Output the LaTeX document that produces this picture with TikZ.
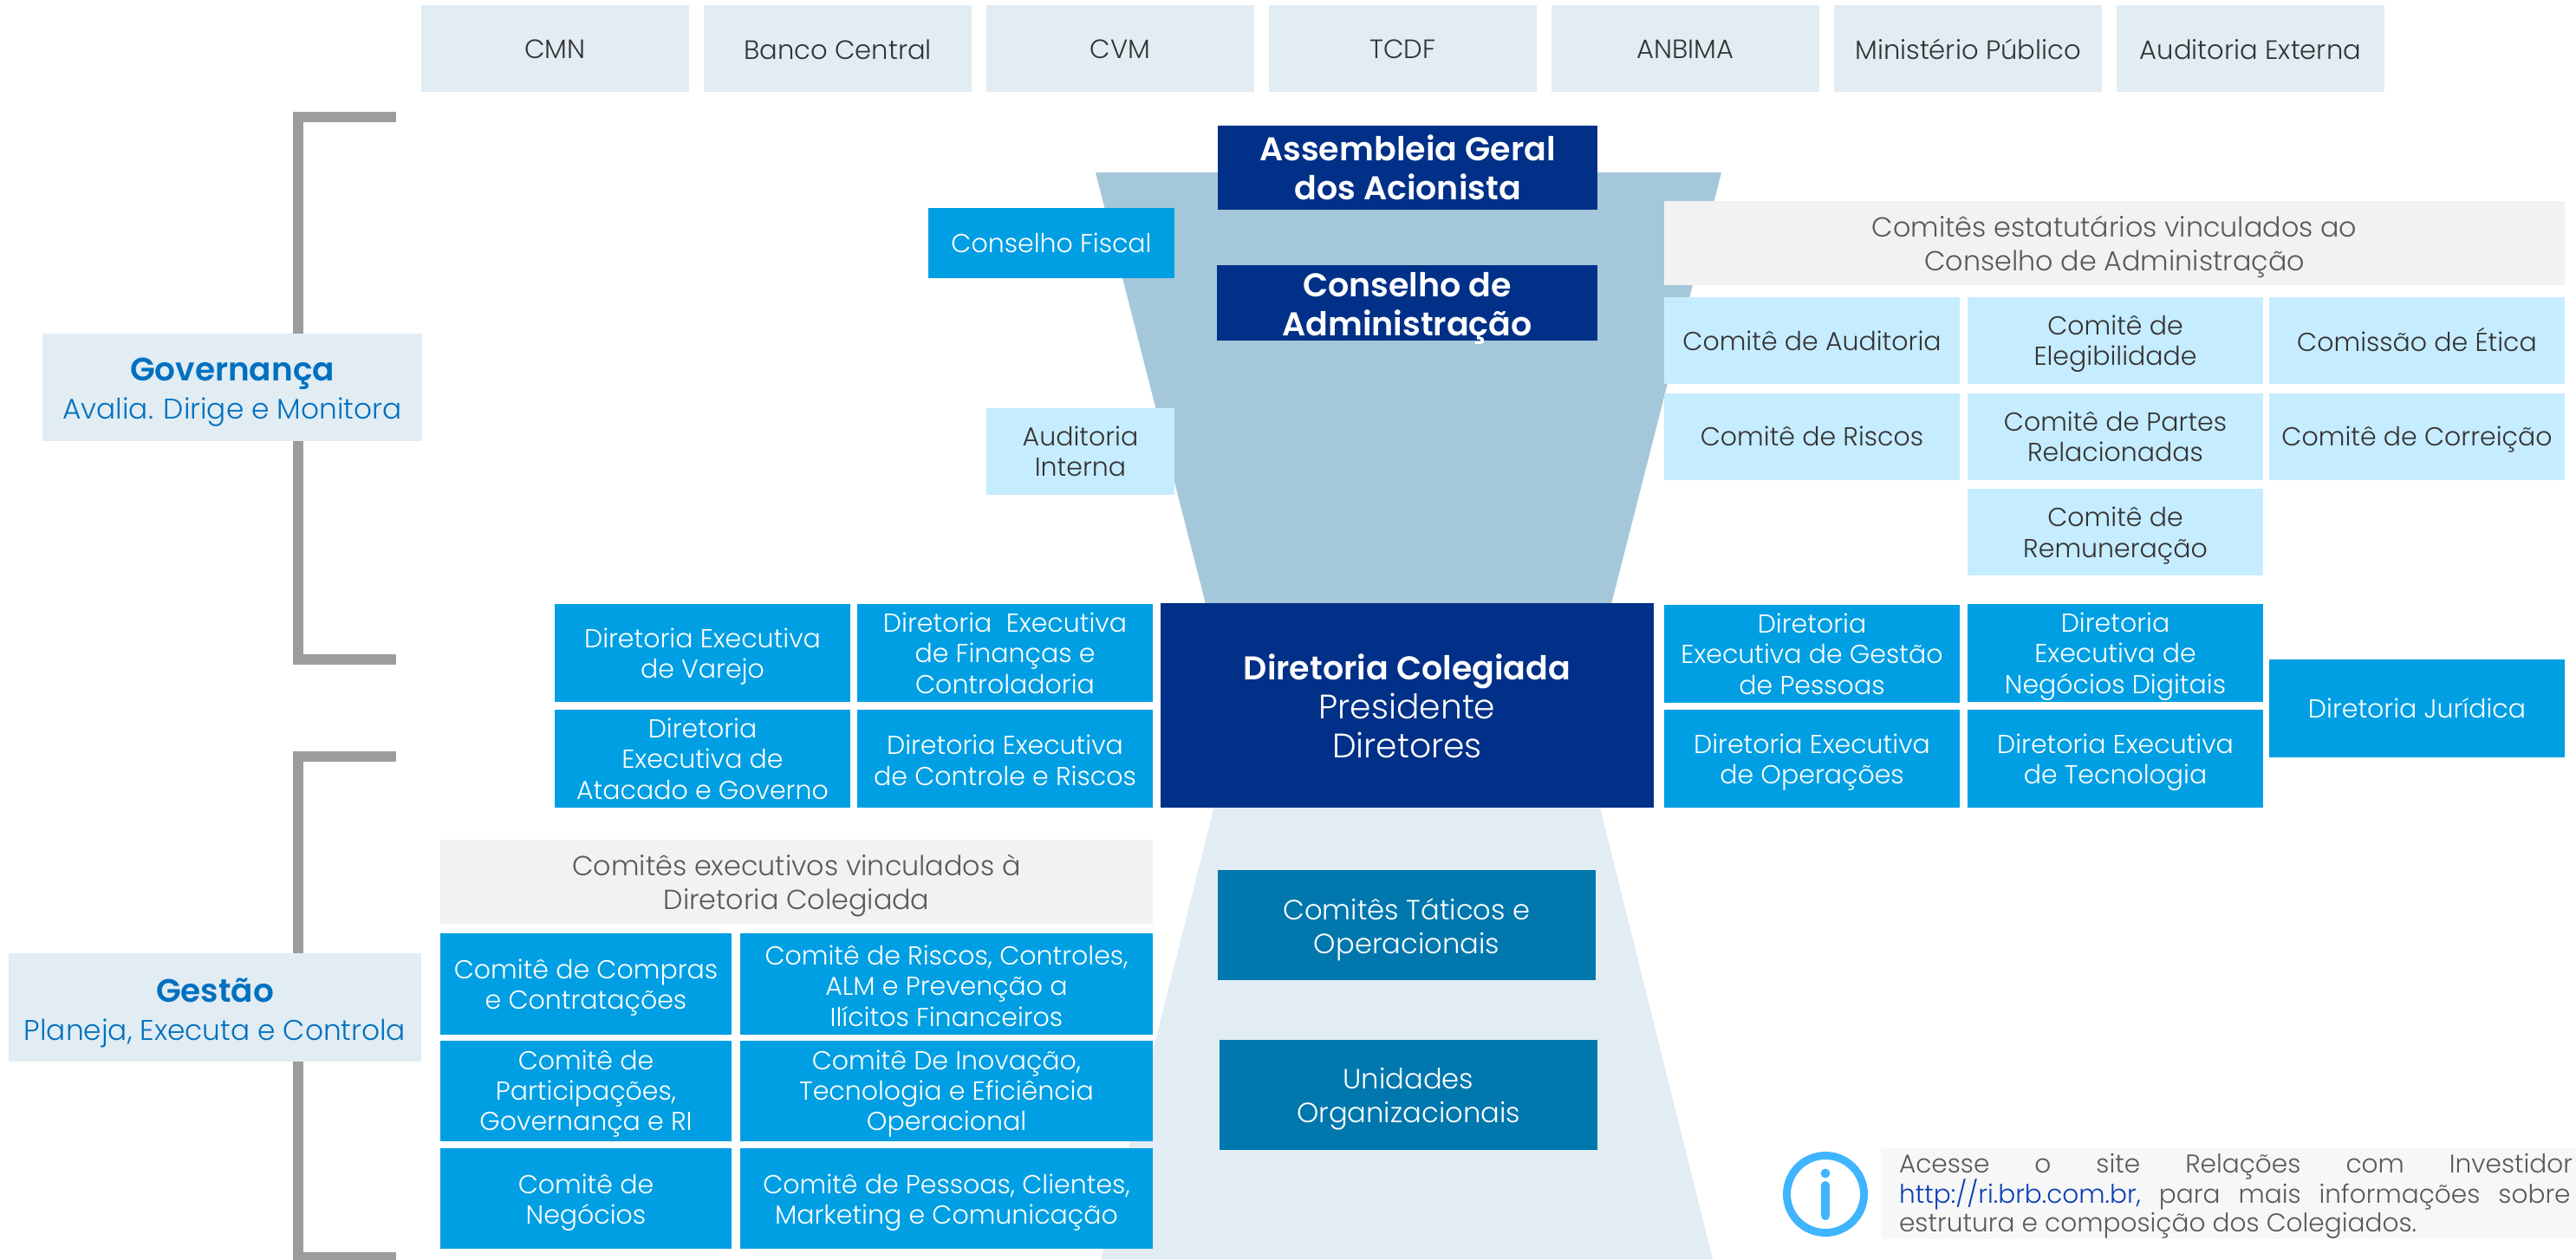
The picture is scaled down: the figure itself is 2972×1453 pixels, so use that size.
\documentclass[tikz,border=0pt]{standalone}
\usepackage{fontspec}
\setmainfont{Poppins}[UprightFont=* Light,BoldFont=* SemiBold]
\definecolor{cpale}{HTML}{E1ECF3}
\definecolor{cblue}{HTML}{009FE3}
\definecolor{cnavy}{HTML}{003087}
\definecolor{cupper}{HTML}{A5C7DA}
\definecolor{csky}{HTML}{C6ECFF}
\definecolor{cteal}{HTML}{0077AD}
\definecolor{chead}{HTML}{F2F2F2}
\definecolor{cbrk}{HTML}{9C9C9C}
\definecolor{ctitle}{HTML}{0070C0}
\definecolor{cdark}{HTML}{333333}
\definecolor{cgrey}{HTML}{595959}
\definecolor{clink}{HTML}{0B3FB5}
\definecolor{cinfo}{HTML}{3FB4FF}
\definecolor{cnote}{HTML}{F7F7F7}
\tikzset{
  x=0.5pt,y=-0.5pt,
  base box/.style={draw=none,inner sep=0pt,outer sep=0pt,rectangle},
  base text/.style={inner sep=0pt,outer sep=0pt,align=center},
  ext box/.style={base box,fill=cpale},
  ext text/.style={base text,text=cdark,font=\fontsize{15.3}{18}\selectfont},
  lev box/.style={base box,fill=cpale},
  lev text/.style={base text,text=ctitle,font=\fontsize{16.4}{22}\selectfont},
  top box/.style={base box,fill=cnavy},
  top text/.style={base text,text=white,font=\fontsize{19}{22.5}\selectfont},
  blue box/.style={base box,fill=cblue},
  blue text/.style={base text,text=white,font=\fontsize{15}{17.7}\selectfont},
  sky box/.style={base box,fill=csky},
  sky text/.style={base text,text=cdark,font=\fontsize{15}{17.7}\selectfont},
  head box/.style={base box,fill=chead},
  head text/.style={base text,text=cgrey,font=\fontsize{15.9}{19.5}\selectfont},
  teal box/.style={base box,fill=cteal},
  teal text/.style={base text,text=white,font=\fontsize{16.1}{19.5}\selectfont},
  bracket/.style={draw=cbrk,line width=6pt,line cap=butt,line join=miter},
  note text/.style={inner sep=0pt,outer sep=0pt,anchor=base west,text=cgrey,font=\fontsize{14.8}{17}\selectfont},
}
% [text shift]{name}{x1}{y1}{x2}{y2}{kind}{text}
\newcommand\bx[8][0]{%
  \node[#7 box,minimum width={(#5-#3)*0.5pt},minimum height={(#6-#4)*0.5pt}] (#2) at ({(#3+#5)/2},{(#4+#6)/2}) {};
  \node[#7 text] (#2-t) at ({(#3+#5)/2},{(#4+#6)/2+#1}) {#8};
}
\begin{document}
\begin{tikzpicture}
\useasboundingbox (0,0) rectangle (2972,1453);
% funnels
\fill[cupper] (1264,199) -- (1986,199) -- (1859,697) -- (1391,697) -- cycle;
\fill[cpale] (1400.5,932) -- (1846,932) -- (1976,1453) -- (1270,1453) -- cycle;
% brackets
\coordinate (ga) at (457,134.5); \coordinate (gb) at (344,134.5);
\coordinate (gc) at (344,761); \coordinate (gd) at (457,761);
\draw[bracket] (ga) -- (gb) -- (gc) -- (gd);
\coordinate (ha) at (457,873); \coordinate (hb) at (344,873);
\coordinate (hc) at (344,1450.5); \coordinate (hd) at (457,1450.5);
\draw[bracket] (ha) -- (hb) -- (hc) -- (hd);
% external bodies
\bx[1]{cmn}{486}{6}{795}{106}{ext}{CMN}
\bx[1]{bc}{812}{6}{1121}{106}{ext}{Banco Central}
\bx[1]{cvm}{1138}{6}{1447}{106}{ext}{CVM}
\bx[1]{tcdf}{1464}{6}{1773}{106}{ext}{TCDF}
\bx[1]{anbima}{1790}{6}{2099}{106}{ext}{ANBIMA}
\bx[1]{mp}{2116}{6}{2425}{106}{ext}{Ministério Público}
\bx[1]{ae}{2442}{6}{2751}{106}{ext}{Auditoria Externa}
% levels
\bx[6]{gov}{49}{385}{487}{509}{lev}{{\fontsize{18.7}{22}\selectfont\bfseries Governança}\\Avalia. Dirige e Monitora}
\bx[6]{ges}{10}{1100}{486}{1225}{lev}{{\fontsize{18.7}{22}\selectfont\bfseries Gestão}\\Planeja, Executa e Controla}
% top organs
\bx{ag}{1405}{145}{1843}{242}{top}{\bfseries Assembleia Geral\\\bfseries dos Acionista}
\bx[6]{ca}{1404}{306}{1843}{393}{top}{\bfseries Conselho de\\\bfseries Administração}
\bx{cf}{1071}{240}{1355}{321}{blue}{Conselho Fiscal}
\bx{ai}{1138}{471}{1355}{571}{sky}{Auditoria\\Interna}
\bx[1]{dc}{1339}{696}{1908}{932}{top}{\bfseries Diretoria Colegiada\\{\fontsize{19.6}{22.5}\selectfont Presidente}\\{\fontsize{19.6}{22.5}\selectfont Diretores}}
% statutory committees
\bx[4]{hs}{1920}{232}{2959}{329}{head}{Comitês estatutários vinculados ao\\Conselho de Administração}
\bx{c11}{1920}{343}{2261}{443}{sky}{Comitê de Auditoria}
\bx[4]{c12}{2270}{343}{2611}{443}{sky}{Comitê de\\Elegibilidade}
\bx[-1]{c13}{2618}{343}{2959}{443}{sky}{Comissão de Ética}
\bx{c21}{1920}{454}{2261}{553.5}{sky}{Comitê de Riscos}
\bx{c22}{2270}{454}{2611}{553.5}{sky}{Comitê de Partes\\Relacionadas}
\bx[3]{c23}{2618}{454}{2959}{553.5}{sky}{Comitê de Correição}
\bx[4]{c32}{2270}{564}{2611}{664}{sky}{Comitê de\\Remuneração}
% directorates
\bx[4]{d1}{640}{697}{981}{810}{blue}{Diretoria Executiva\\de Varejo}
\bx{d2}{989}{697}{1330}{810}{blue}{Diretoria\ \ Executiva\\de Finanças e\\Controladoria}
\bx{d3}{640}{819}{981}{932}{blue}{Diretoria\\Executiva de\\Atacado e Governo}
\bx[2]{d4}{989}{819}{1330}{932}{blue}{Diretoria Executiva\\de Controle e Riscos}
\bx{d5}{1920}{698}{2261}{811}{blue}{Diretoria\\Executiva de Gestão\\de Pessoas}
\bx[4]{d6}{2270}{697}{2611}{810}{blue}{Diretoria\\Executiva de\\Negócios Digitais}
\bx[4]{d7}{1920}{819}{2261}{932}{blue}{Diretoria Executiva\\de Operações}
\bx[4]{d8}{2270}{819}{2611}{932}{blue}{Diretoria Executiva\\de Tecnologia}
\bx{d9}{2618}{761}{2959}{874}{blue}{Diretoria Jurídica}
% executive committees
\bx[4]{he}{508}{969}{1330}{1066}{head}{Comitês executivos vinculados à\\Diretoria Colegiada}
\bx[4]{e11}{508}{1077}{844}{1194}{blue}{Comitê de Compras\\e Contratações}
\bx[2]{e12}{854}{1077}{1330}{1194}{blue}{Comitê de Riscos, Controles,\\ALM e Prevenção a\\Ilícitos Financeiros}
\bx[3]{e21}{508}{1201}{844}{1317}{blue}{Comitê de\\Participações,\\Governança e RI}
\bx[3]{e22}{854}{1201}{1330}{1317}{blue}{Comitê De Inovação,\\Tecnologia e Eficiência\\Operacional}
\bx[5]{e31}{508}{1325}{844}{1441}{blue}{Comitê de\\Negócios}
\bx[5]{e32}{854}{1325}{1330}{1441}{blue}{Comitê de Pessoas, Clientes,\\Marketing e Comunicação}
% lower funnel
\bx[5]{ct}{1405}{1004}{1841}{1131}{teal}{Comitês Táticos e\\Operacionais}
\bx[5]{uo}{1407}{1200}{1843}{1327}{teal}{Unidades\\Organizacionais}
% note
\fill[cnote] (2170,1325) rectangle (2972,1430);
\node[draw=cinfo,line width=4.5pt,circle,inner sep=0pt,minimum size=44.5pt,fill=white] (info) at (2106,1378) {};
\fill[cinfo] (2106,1354) circle (2.7pt);
\draw[cinfo,line width=5pt,line cap=round] (2106,1368) -- (2106,1403);
\node[note text] (n1) at (2191,1353) {\spaceskip=26pt\relax Acesse o site Relações com Investidor};
\node[note text] (n2) at (2191,1388) {\spaceskip=10.5pt\relax \textcolor{clink}{http://ri.brb.com.br,} para mais informações sobre};
\node[note text] (n3) at (2191,1421) {estrutura e composição dos Colegiados.};
\end{tikzpicture}
\end{document}
